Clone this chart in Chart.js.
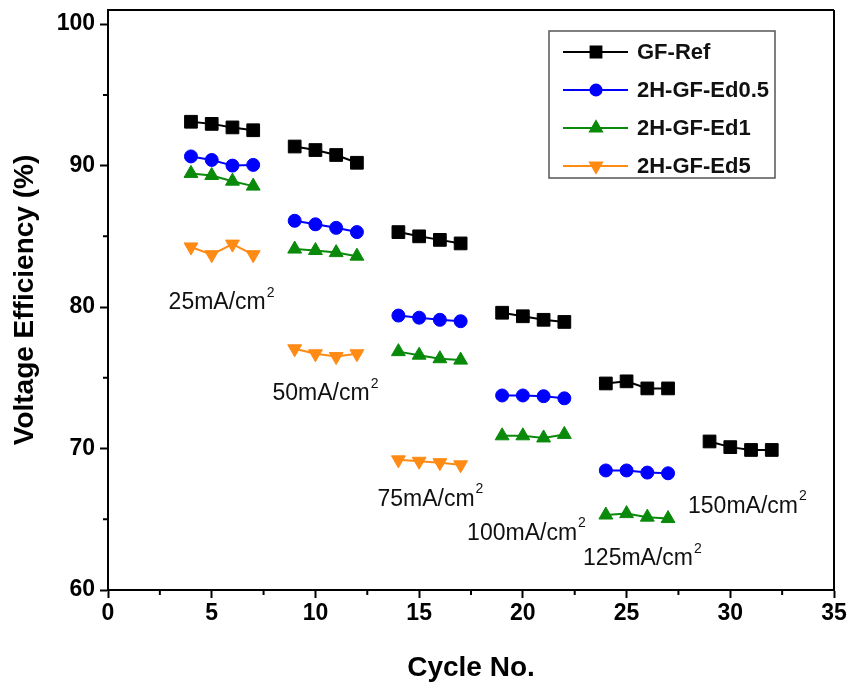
<!DOCTYPE html>
<html>
<head>
<meta charset="utf-8">
<script src="https://cdn.jsdelivr.net/npm/chart.js@4.4.1/dist/chart.umd.min.js"></script>
<style>
html,body{margin:0;padding:0;background:#fff;}
#wrap{width:849px;height:688px;}
</style>
</head>
<body>
<div id="wrap"><canvas id="c" width="849" height="688"></canvas></div>
<script>
// ---- data ----
const cycles = [4,5,6,7, 9,10,11,12, 14,15,16,17, 19,20,21,22, 24,25,26,27, 29,30,31,32];
const gfRef  = [93.1,92.95,92.7,92.5, 91.35,91.1,90.75,90.2, 85.3,85.0,84.75,84.5, 79.6,79.35,79.1,78.95, 74.6,74.75,74.25,74.25, 70.5,70.1,69.9,69.9];
const ed05   = [90.65,90.4,90.0,90.05, 86.1,85.85,85.6,85.3, 79.4,79.25,79.1,79.0, 73.75,73.75,73.7,73.55, 68.45,68.45,68.3,68.25, null,null,null,null];
const ed1    = [89.45,89.3,88.9,88.55, 84.1,84.0,83.85,83.6, 76.85,76.6,76.35,76.25, 70.9,70.9,70.75,71.0, 65.3,65.4,65.15,65.05, null,null,null,null];
const ed5    = [84.25,83.7,84.45,83.7, 77.05,76.7,76.5,76.7, 69.2,69.1,69.0,68.85, null,null,null,null, null,null,null,null, null,null,null,null];
const seriesNames = ['GF-Ref','2H-GF-Ed0.5','2H-GF-Ed1','2H-GF-Ed5'];
const xTicks = [0,5,10,15,20,25,30,35];
const yTicks = [60,70,80,90,100];
const currentLabels = ['25mA/cm','50mA/cm','75mA/cm','100mA/cm','125mA/cm','150mA/cm'];
const currentLabelX = [5.45, 10.46, 15.52, 20.15, 25.74, 30.8];
const currentLabelY = [80.3, 73.85, 66.4, 64.0, 62.2, 65.9];

const FONT = '"Liberation Sans", Arial, sans-serif';

function buildPoints(vals){
  const pts = [];
  for (let i = 0; i < cycles.length; i++){
    if (i > 0 && cycles[i] - cycles[i-1] > 1) pts.push({x: cycles[i]-1, y: null});
    pts.push({x: cycles[i], y: vals[i]});
  }
  return pts;
}

const styles = [
  {color:'#000000', pointStyle:'rect', radius:9, rotation:0},
  {color:'#0000ff', pointStyle:'circle', radius:6.5, rotation:0},
  {color:'#0a8a0a', pointStyle:'triangle', radius:8, rotation:0},
  {color:'#ff8a14', pointStyle:'triangle', radius:8, rotation:180}
];
const allVals = [gfRef, ed05, ed1, ed5];

const datasets = allVals.map((v,i)=>({
  label: seriesNames[i],
  data: buildPoints(v),
  borderColor: styles[i].color,
  backgroundColor: styles[i].color,
  borderWidth: 2,
  pointStyle: styles[i].pointStyle,
  pointRadius: styles[i].radius,
  pointRotation: styles[i].rotation,
  pointBorderWidth: 1,
  pointBorderColor: styles[i].color,
  pointBackgroundColor: styles[i].color,
  spanGaps: false,
  tension: 0
}));

const framePlugin = {
  id: 'frame',
  afterDraw(chart){
    const {ctx, chartArea: a, scales} = chart;
    ctx.save();
    ctx.strokeStyle = '#000';
    ctx.lineWidth = 2;
    ctx.beginPath();
    ctx.moveTo(a.left - 1, a.top); ctx.lineTo(a.right, a.top);
    ctx.moveTo(a.right, a.top); ctx.lineTo(a.right, a.bottom);
    ctx.stroke();
    // minor ticks
    ctx.beginPath();
    for (let v = 2.5; v < 35; v += 5){
      const px = scales.x.getPixelForValue(v);
      ctx.moveTo(px, a.bottom); ctx.lineTo(px, a.bottom + 5);
    }
    for (let v = 65; v < 101; v += 10){
      const py = scales.y.getPixelForValue(v);
      ctx.moveTo(a.left, py); ctx.lineTo(a.left - 5, py);
    }
    ctx.stroke();

    // current density labels
    ctx.fillStyle = '#111';
    ctx.textBaseline = 'middle';
    for (let i = 0; i < currentLabels.length; i++){
      const cx = scales.x.getPixelForValue(currentLabelX[i]);
      const cy = scales.y.getPixelForValue(currentLabelY[i]);
      ctx.font = '23px ' + FONT;
      const w1 = ctx.measureText(currentLabels[i]).width;
      ctx.font = '14px ' + FONT;
      const w2 = ctx.measureText('2').width;
      const x0 = cx - (w1 + w2) / 2;
      ctx.font = '23px ' + FONT;
      ctx.textAlign = 'left';
      ctx.fillText(currentLabels[i], x0, cy);
      ctx.font = '14px ' + FONT;
      ctx.fillText('2', x0 + w1 + 1, cy - 10);
    }

    // legend
    const bx = 549, by = 31, bw = 226, bh = 147;
    ctx.strokeStyle = '#555';
    ctx.lineWidth = 1.5;
    ctx.strokeRect(bx, by, bw, bh);
    chart.data.datasets.forEach((ds, i) => {
      const ry = by + 21 + i * 38;
      ctx.strokeStyle = ds.borderColor;
      ctx.lineWidth = 2;
      ctx.beginPath();
      ctx.moveTo(bx + 14, ry); ctx.lineTo(bx + 79, ry);
      ctx.stroke();
      ctx.fillStyle = ds.borderColor;
      Chart.helpers.drawPoint(ctx, {pointStyle: ds.pointStyle, radius: ds.pointRadius * 0.85, rotation: ds.pointRotation, borderWidth: 1}, bx + 47, ry);
      ctx.fill();
      ctx.fillStyle = '#111';
      ctx.font = 'bold 22px ' + FONT;
      ctx.textAlign = 'left';
      ctx.textBaseline = 'middle';
      ctx.fillText(ds.label, bx + 88, ry + 1);
    });
    ctx.restore();
  }
};

new Chart(document.getElementById('c'), {
  type: 'line',
  data: { datasets },
  options: {
    responsive: false,
    animation: false,
    layout: { padding: { top: 6, right: 15, left: 0, bottom: 0 } },
    plugins: { legend: { display: false }, tooltip: { enabled: false } },
    scales: {
      x: {
        type: 'linear', min: 0, max: 35,
        afterBuildTicks(s){ s.ticks = xTicks.map(v => ({value: v})); },
        afterFit(s){ s.height = 98; s.paddingLeft = 0; s.paddingRight = 0; },
        ticks: { color: '#000', font: { family: FONT, size: 23, weight: 'bold' }, padding: 2, maxRotation: 0, autoSkip: false },
        grid: { drawOnChartArea: false, drawTicks: true, tickLength: 8, tickWidth: 2, tickColor: '#000' },
        border: { display: true, color: '#000', width: 2 },
        title: { display: true, text: 'Cycle No.', color: '#000', font: { family: FONT, size: 28, weight: 'bold' }, padding: { top: 0, bottom: 3 } }
      },
      y: {
        type: 'linear', min: 60, max: 101,
        afterBuildTicks(s){ s.ticks = yTicks.map(v => ({value: v})); },
        afterFit(s){ s.width = 108; s.paddingTop = 0; s.paddingBottom = 0; },
        ticks: { color: '#000', font: { family: FONT, size: 23, weight: 'bold' }, padding: 5 },
        grid: { drawOnChartArea: false, drawTicks: true, tickLength: 8, tickWidth: 2, tickColor: '#000' },
        border: { display: true, color: '#000', width: 2 },
        title: { display: true, text: 'Voltage Efficiency (%)', color: '#000', font: { family: FONT, size: 28, weight: 'bold' }, padding: { top: 8, bottom: 0 } }
      }
    }
  },
  plugins: [framePlugin]
});
</script>
</body>
</html>
